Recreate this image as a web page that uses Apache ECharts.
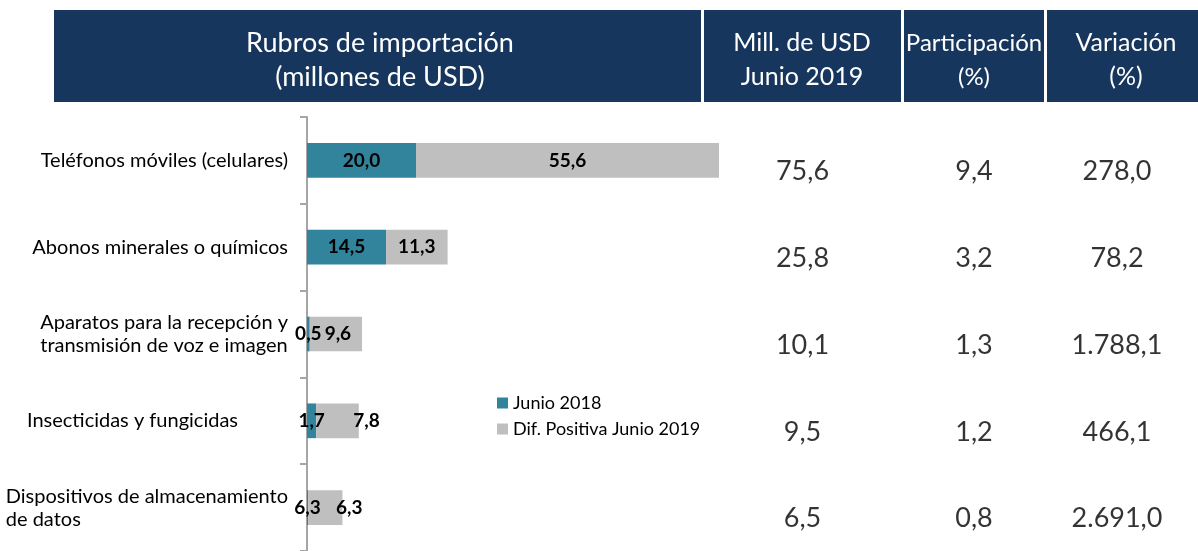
<!DOCTYPE html>
<html>
<head>
<meta charset="utf-8">
<script src="https://cdn.jsdelivr.net/npm/echarts@6/dist/echarts.min.js"></script>
<style>
  html, body { margin: 0; padding: 0; background: #fff; }
  #main { width: 1198px; height: 551px; }
</style>
</head>
<body>
<div id="main"></div>
<script>
// rubros (de arriba hacia abajo)
var rubros = [
  'Teléfonos móviles (celulares)',
  'Abonos minerales o químicos',
  'Aparatos para la recepción y\ntransmisión de voz e imagen',
  'Insecticidas y fungicidas',
  'Dispositivos de almacenamiento\nde datos'
];
var junio2018 = [20.0, 14.5, 0.5, 1.7, 0.2];
var junio2018Etiquetas = ['20,0', '14,5', '0,5', '1,7', '6,3'];
var difPositiva = [55.6, 11.3, 9.6, 7.8, 6.3];

// tabla de la derecha
var millUSD = ['75,6', '25,8', '10,1', '9,5', '6,5'];
var participacion = ['9,4', '3,2', '1,3', '1,2', '0,8'];
var variacion = ['278,0', '78,2', '1.788,1', '466,1', '2.691,0'];

var FONT = 'Lato';
var NAVY = '#17365D';
var TEAL = '#31849B';
var GRIS = '#BFBFBF';

// desplazamiento de etiquetas en barras pequeñas (como en el original)
var despGris = [0, 0, 2, 29, 24];
// sangría derecha de las etiquetas del eje
var sangria = [0, 0, 0, 50, 0];

function coma(v) {
  return v.toFixed(1).replace('.', ',');
}

var myChart = echarts.init(document.getElementById('main'));

// columnas de la tabla: [izquierda, ancho]
var columnas = [[704, 197], [904, 140], [1047, 140]];
var tablas = [millUSD, participacion, variacion];

var etiquetaBarra = {
  show: true, position: 'inside', color: '#000', fontFamily: FONT,
  fontWeight: 'bold', fontSize: 19
};

var grids = [{ left: 307, top: 117, width: 436, height: 440 }];
var xAxes = [{
  type: 'value', gridIndex: 0, min: 0, max: 80, show: false
}];
var rich = {};
sangria.forEach(function (s, i) {
  rich['r' + i] = {
    align: 'left', fontFamily: FONT, fontSize: 20, lineHeight: 23,
    color: '#000', padding: [0, s, 0, 0]
  };
});
var yAxes = [{
  type: 'category', gridIndex: 0, data: rubros, inverse: true,
  axisLine: { show: true, lineStyle: { color: '#A6A6A6', width: 2 } },
  axisTick: { show: true, length: 7, lineStyle: { color: '#A6A6A6', width: 2 } },
  axisLabel: {
    color: '#000', fontFamily: FONT, fontSize: 20, margin: 19, align: 'right',
    formatter: function (v, idx) {
      return v.split('\n').map(function (l) { return '{r' + idx + '|' + l + '}'; }).join('\n');
    },
    rich: rich
  }
}];
var series = [
  {
    name: 'Junio 2018',
    type: 'bar',
    stack: 'total',
    barWidth: '40%',
    itemStyle: { color: TEAL },
    label: etiquetaBarra,
    data: junio2018.map(function (v, i) {
      return { value: v, label: { formatter: junio2018Etiquetas[i] } };
    })
  },
  {
    name: 'Dif. Positiva Junio 2019',
    type: 'bar',
    stack: 'total',
    itemStyle: { color: GRIS },
    label: etiquetaBarra,
    data: difPositiva.map(function (v, i) {
      return {
        value: v,
        label: { offset: [despGris[i], 0], formatter: coma(v) }
      };
    })
  }
];

columnas.forEach(function (c, i) {
  var g = i + 1;
  grids.push({ left: c[0], top: 117, width: c[1], height: 440 });
  xAxes.push({ type: 'value', gridIndex: g, min: 0, max: 1, show: false });
  yAxes.push({ type: 'category', gridIndex: g, data: rubros, inverse: true, show: false });
  series.push({
    type: 'scatter',
    xAxisIndex: g,
    yAxisIndex: g,
    symbolSize: 0,
    silent: true,
    label: {
      show: true, position: 'inside', offset: [0, 11], color: '#000',
      fontFamily: FONT, fontSize: 27,
      formatter: function (p) { return tablas[i][p.dataIndex]; }
    },
    data: tablas[i].map(function (v, k) { return [0.5, k]; })
  });
});

function cabecera(x, w, cx, lineas, size) {
  return [
    { type: 'rect', shape: { x: x, y: 10, width: w, height: 92 }, style: { fill: NAVY } },
    {
      type: 'text', x: cx, y: 60,
      style: {
        text: lineas.join('\n'), fill: '#fff', font: size + 'px ' + FONT,
        align: 'center', verticalAlign: 'middle', lineHeight: 34
      }
    }
  ];
}

var option = {
  animation: false,
  backgroundColor: '#fff',
  grid: grids,
  xAxis: xAxes,
  yAxis: yAxes,
  legend: {
    orient: 'vertical',
    left: 492,
    top: 389,
    itemWidth: 11,
    itemHeight: 11,
    itemGap: 8,
    icon: 'rect',
    textStyle: { color: '#000', fontFamily: FONT, fontSize: 18 },
    data: ['Junio 2018', 'Dif. Positiva Junio 2019']
  },
  graphic: [].concat(
    cabecera(54, 647, 380, ['Rubros de importación', '(millones de USD)'], 27),
    cabecera(704, 197, 802, ['Mill. de USD', 'Junio 2019'], 25),
    cabecera(904, 140, 974, ['Participación', '(%)'], 24),
    cabecera(1047, 151, 1126, ['Variación', '(%)'], 25)
  ),
  series: series
};

myChart.setOption(option);
window.addEventListener('resize', function () {
  myChart.resize();
}, false);
</script>
</body>
</html>
